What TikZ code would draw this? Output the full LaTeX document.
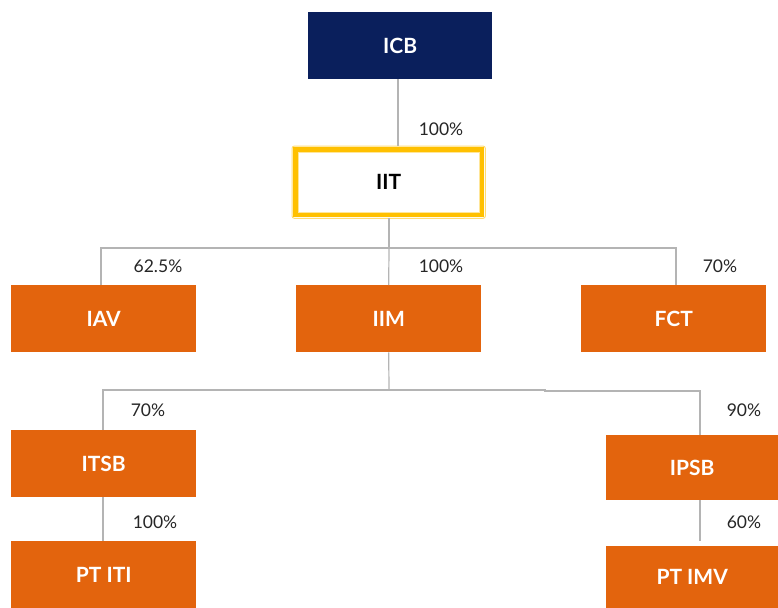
\documentclass[tikz,border=0pt]{standalone}
\usepackage{fontspec}
\setmainfont{Lato}
\definecolor{navy}{HTML}{0A1F5C}
\definecolor{org}{HTML}{E3640D}
\definecolor{gold}{HTML}{FFC000}
\definecolor{ln}{HTML}{B4B4B4}
\begin{document}
\begin{tikzpicture}[x=1pt,y=-1pt,
  box/.style={fill=org,draw=none,minimum width=185pt,minimum height=67pt,inner sep=0pt,text=white,font=\fontsize{21}{23}\selectfont\bfseries,anchor=north west},
  pct/.style={font=\fontsize{17.5}{19}\selectfont,text=black!85,inner sep=0pt},
  wire/.style={draw=ln,line width=1.2pt}]
\useasboundingbox (0,0) rectangle (778,607);
\node[box,fill=navy,minimum width=184pt] (icb) at (308,12) {ICB};
\node[fill=white,minimum width=193pt,minimum height=72pt,inner sep=0pt,anchor=north west,font=\fontsize{21}{23}\selectfont\bfseries] (iit) at (292,146) {IIT};
\draw[gold!55,line width=1pt,rounded corners=2.5pt] (iit.north west) rectangle (iit.south east);
\draw[gold,line width=5pt] ([shift={(3.5,3.5)}]iit.north west) rectangle ([shift={(-3.5,-3.5)}]iit.south east);
\draw[gold!40,line width=0.8pt] ([shift={(6.5,6.5)}]iit.north west) rectangle ([shift={(-6.5,-6.5)}]iit.south east);
\node[box] (iav) at (11,285) {IAV};
\node[box] (iim) at (296,285) {IIM};
\node[box] (fct) at (581,285) {FCT};
\node[box] (itsb) at (11,430) {ITSB};
\node[box,minimum width=172pt,minimum height=65pt] (ipsb) at (606,435) {IPSB};
\node[box] (ptiti) at (11,541) {PT ITI};
\node[box,minimum width=172pt,minimum height=62pt] (ptimv) at (606,546) {PT IMV};
\coordinate (b1) at (389,248);
\coordinate (b2) at (389,390);
\coordinate (m1) at (700,541);
\draw[wire] (icb.south -| 398,0) -- (398,146);
\draw[wire] (389,218) -- (b1);
\draw[wire] (iav.north -| 101,0) |- (676,248) -- (fct.north -| 676,0);
\draw[wire] (b1) -- (iim.north);
\draw[wire] (iim.south) -- (b2);
\draw[wire] (itsb.north -| 103,0) |- (545,390) -- (545,391) -| (ipsb.north -| 700,0);
\draw[wire] (itsb.south -| 103,0) -- (ptiti.north -| 103,0);
\draw[wire] (ipsb.south -| 700,0) -- (m1);
\node[pct] (p1) at (441,129) {100\%};
\node[pct] (p2) at (158,266) {62.5\%};
\node[pct] (p3) at (441,266) {100\%};
\node[pct] (p4) at (720,266) {70\%};
\node[pct] (p5) at (148,410) {70\%};
\node[pct] (p6) at (744,410) {90\%};
\node[pct] (p7) at (155,522) {100\%};
\node[pct] (p8) at (744,522) {60\%};
\end{tikzpicture}
\end{document}
